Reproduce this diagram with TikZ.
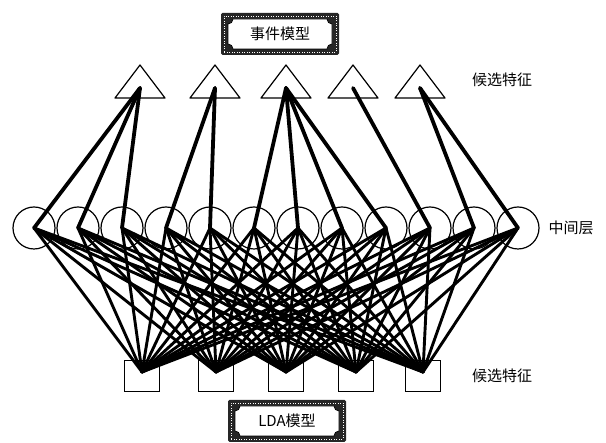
\documentclass[tikz,border=0pt]{standalone}
\usepackage{fontspec}
\newfontfamily\cjk{Noto Sans CJK SC}
\begin{document}
\begin{tikzpicture}[x=1pt,y=1pt,
  neuron/.style={circle,draw,line width=1.2pt,minimum size=42pt,inner sep=0pt},
  feat/.style={draw,line width=1.2pt,minimum width=35pt,minimum height=31pt,inner sep=0pt},
  upl/.style={line width=3.8pt,line cap=round},
  lowl/.style={line width=2.9pt,line cap=round},
  lab/.style={font=\cjk\fontsize{15}{15}\selectfont,inner sep=0pt},
  deco/.pic={
    \fill[black!85,rounded corners=1.5pt] (-59,-21) rectangle (59,21);
    \draw[white,line width=0.7pt,dash pattern=on 1pt off 1.5pt] (-56,-18) rectangle (56,18);
    \fill[white] (-47,15) -- (47,15) arc[start angle=180,end angle=270,radius=5]
      -- (52,-10) arc[start angle=90,end angle=180,radius=5]
      -- (-47,-15) arc[start angle=0,end angle=90,radius=5]
      -- (-52,10) arc[start angle=270,end angle=360,radius=5] -- cycle;
    \draw[line width=0.8pt] (-47,15) -- (47,15) arc[start angle=180,end angle=270,radius=5]
      -- (52,-10) arc[start angle=90,end angle=180,radius=5]
      -- (-47,-15) arc[start angle=0,end angle=90,radius=5]
      -- (-52,10) arc[start angle=270,end angle=360,radius=5] -- cycle;
  }
]
\useasboundingbox (0,0) rectangle (606,443);
\fill[white] (0,0) rectangle (606,443);

% triangles (candidate features, top)
\foreach \i/\x in {1/140,2/215,3/286,4/353,5/420}{
  \draw[line width=1.2pt,line join=round] (\x,378) -- (\x+25,345) -- (\x-25,345) -- cycle;
  \coordinate (t\i) at (\x,355);
}

% hidden layer circles
\foreach \i in {1,...,12}
  \node[neuron] (c\i) at ({34+44*(\i-1)},215) {};

% squares (candidate features, bottom)
\foreach \i/\x in {1/142,2/216,3/286,4/356,5/423}{
  \node[feat] (s\i) at (\x,67) {};
  \coordinate (b\i) at (\x,71);
}

% top connections
\foreach \t/\c in {1/1,1/2,1/3,2/4,2/5,3/6,3/7,3/8,3/9,4/10,5/11,5/12}
  \draw[upl] (t\t) -- (c\c.center);

% bottom connections (full)
\foreach \c in {1,...,12}
  \foreach \s in {1,...,5}
    \draw[lowl] (c\c.center) -- (b\s);

% labels
\node[lab] (lt) at (502,363) {候选特征};
\node[lab] (lm) at (571,215) {中间层};
\node[lab] (lb) at (502,67) {候选特征};

% framed titles
\pic at (280,409) {deco};
\node[lab] (evt) at (280,409) {事件模型};
\pic at (287,22) {deco};
\node[lab] (lda) at (287,22) {LDA模型};
\end{tikzpicture}
\end{document}
